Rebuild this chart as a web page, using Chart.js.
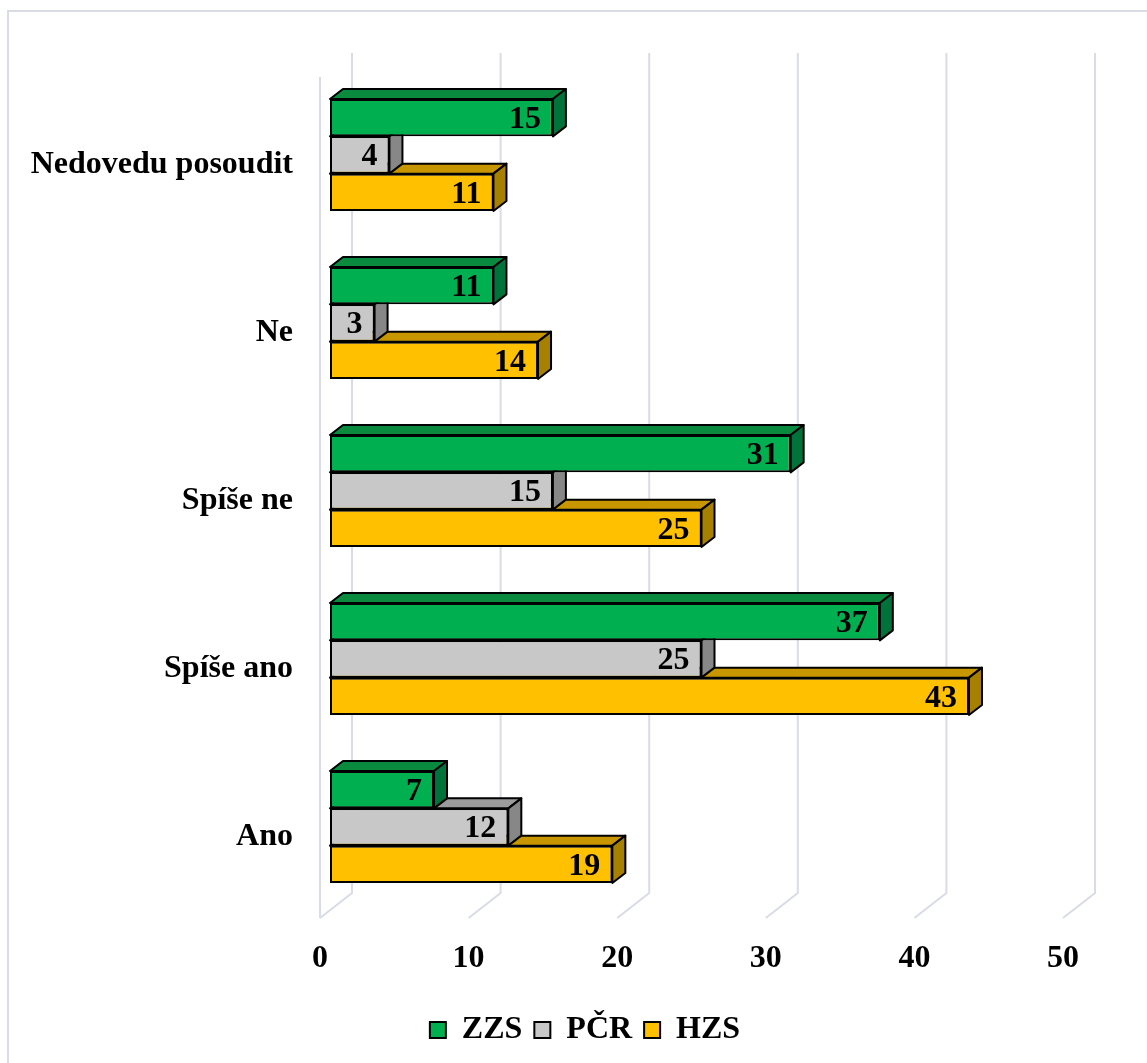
<!DOCTYPE html>
<html>
<head>
<meta charset="utf-8">
<script src="https://cdn.jsdelivr.net/npm/chart.js@4/dist/chart.umd.min.js"></script>
<style>
  html, body { margin: 0; padding: 0; background: #ffffff; }
  canvas { display: block; }
</style>
</head>
<body>
<canvas id="chart" width="1147" height="1063"></canvas>
<script>
// Answers per category, listed top to bottom as drawn
const categories = ['Nedovedu posoudit', 'Ne', 'Spíše ne', 'Spíše ano', 'Ano'];
const seriesNames = ['ZZS', 'PČR', 'HZS'];
const zzsValues = [15, 11, 31, 37, 7];
const pcrValues = [4, 3, 15, 25, 12];
const hzsValues = [11, 14, 25, 43, 19];
const xTicks = [0, 10, 20, 30, 40, 50];

const FONT = 'Liberation Serif';
const BAR_DEPTH = { dx: 13, dy: -10 };   // extrusion of each bar
const WALL_DEPTH = { dx: 32, dy: -25 };  // depth of the floor / back wall
const FRONT_SHIFT = 10;                  // bars sit this far behind the front edge

const palette = [
  { front: '#00B050', top: '#0A8A3F', side: '#00733A' },
  { front: '#C8C8C8', top: '#9B9B9B', side: '#878787' },
  { front: '#FFC000', top: '#C79600', side: '#A88000' }
];
const seriesValues = [zzsValues, pcrValues, hzsValues];

// light frame around the whole chart
const framePlugin = {
  id: 'frame',
  beforeDraw(chart) {
    const ctx = chart.ctx;
    ctx.save();
    ctx.fillStyle = '#ffffff';
    ctx.fillRect(0, 0, chart.width, chart.height);
    ctx.strokeStyle = '#D9DCE4';
    ctx.lineWidth = 2;
    ctx.strokeRect(8, 11, chart.width + 20, chart.height + 20);
    ctx.restore();
  }
};

// perspective gridlines plus the top and right faces of every bar
const depthPlugin = {
  id: 'depth',
  beforeDatasetsDraw(chart) {
    const ctx = chart.ctx;
    const xs = chart.scales.x;
    const a = chart.chartArea;
    const floorY = a.bottom + 7;
    const backBottom = floorY + WALL_DEPTH.dy;
    const backTop = a.top - 18;

    ctx.save();
    ctx.strokeStyle = '#D9DCE6';
    ctx.lineWidth = 2;
    xTicks.forEach(v => {
      const xf = xs.getPixelForValue(v) - FRONT_SHIFT;
      const xb = xf + WALL_DEPTH.dx;
      ctx.beginPath();
      ctx.moveTo(xb, backTop);
      ctx.lineTo(xb, backBottom);
      ctx.lineTo(xf, floorY);
      ctx.stroke();
    });
    const x0 = xs.getPixelForValue(0) - FRONT_SHIFT;
    ctx.beginPath();
    ctx.moveTo(x0, a.top + 6);
    ctx.lineTo(x0, floorY);
    ctx.stroke();

    // faces drawn from the lowest series upward so upper bars cover lower tops
    ctx.lineWidth = 2;
    ctx.lineJoin = 'round';
    ctx.strokeStyle = '#000000';
    const poly = (pts, fill) => {
      ctx.beginPath();
      ctx.moveTo(pts[0][0], pts[0][1]);
      for (let i = 1; i < pts.length; i++) ctx.lineTo(pts[i][0], pts[i][1]);
      ctx.closePath();
      ctx.fillStyle = fill;
      ctx.fill();
      ctx.stroke();
    };
    for (let d = chart.data.datasets.length - 1; d >= 0; d--) {
      const meta = chart.getDatasetMeta(d);
      const col = palette[d];
      meta.data.forEach(bar => {
        const p = bar.getProps(['x', 'y', 'base', 'height'], true);
        const top = p.y - p.height / 2;
        const bot = p.y + p.height / 2;
        const { dx, dy } = BAR_DEPTH;
        poly([[p.base, top], [p.base + dx, top + dy], [p.x + dx, top + dy], [p.x, top]], col.top);
        poly([[p.x, top], [p.x + dx, top + dy], [p.x + dx, bot + dy], [p.x, bot]], col.side);
      });
    }
    ctx.restore();
  },
  afterDatasetsDraw(chart) {
    const ctx = chart.ctx;
    ctx.save();
    ctx.font = 'bold 32px "' + FONT + '"';
    ctx.fillStyle = '#000000';
    ctx.textAlign = 'right';
    ctx.textBaseline = 'middle';
    chart.data.datasets.forEach((ds, d) => {
      const meta = chart.getDatasetMeta(d);
      meta.data.forEach((bar, i) => {
        const p = bar.getProps(['x', 'y'], true);
        ctx.fillText(String(ds.data[i]), p.x - 12, p.y + 2);
      });
    });
    ctx.restore();
  }
};

const datasets = seriesNames.map((name, i) => ({
  label: name,
  data: seriesValues[i],
  backgroundColor: palette[i].front,
  borderColor: '#000000',
  borderWidth: 2,
  borderSkipped: false,
  categoryPercentage: 2 / 3,
  barPercentage: 1.0
}));

const tickFont = { family: FONT, size: 32, weight: 'bold' };

new Chart(document.getElementById('chart'), {
  type: 'bar',
  data: { labels: categories, datasets },
  options: {
    indexAxis: 'y',
    responsive: false,
    devicePixelRatio: 1,
    animation: false,
    layout: { padding: { left: 23, right: 0, top: 71, bottom: 7 } },
    scales: {
      x: {
        type: 'linear',
        min: 0,
        max: 50,
        grid: { display: false, drawTicks: false },
        border: { display: false },
        ticks: { font: tickFont, color: '#000000', padding: 29, labelOffset: -FRONT_SHIFT, maxRotation: 0, autoSkip: false },
        afterBuildTicks: s => { s.ticks = xTicks.map(v => ({ value: v })); },
        afterFit: s => { s.height = 91; }
      },
      y: {
        type: 'category',
        grid: { display: false, drawTicks: false },
        border: { display: false },
        ticks: { font: tickFont, color: '#000000', padding: 37, labelOffset: 10 },
        afterFit: s => { s.width = 307; }
      },
      yRight: {
        type: 'category',
        position: 'right',
        grid: { display: false, drawTicks: false },
        border: { display: false },
        ticks: { display: false },
        afterFit: s => { s.width = 74; }
      }
    },
    plugins: {
      legend: {
        position: 'bottom',
        labels: {
          font: tickFont,
          color: '#000000',
          boxWidth: 16,
          boxHeight: 16,
          padding: 12
        }
      },
      tooltip: { enabled: false }
    }
  },
  plugins: [framePlugin, depthPlugin]
});
</script>
</body>
</html>
